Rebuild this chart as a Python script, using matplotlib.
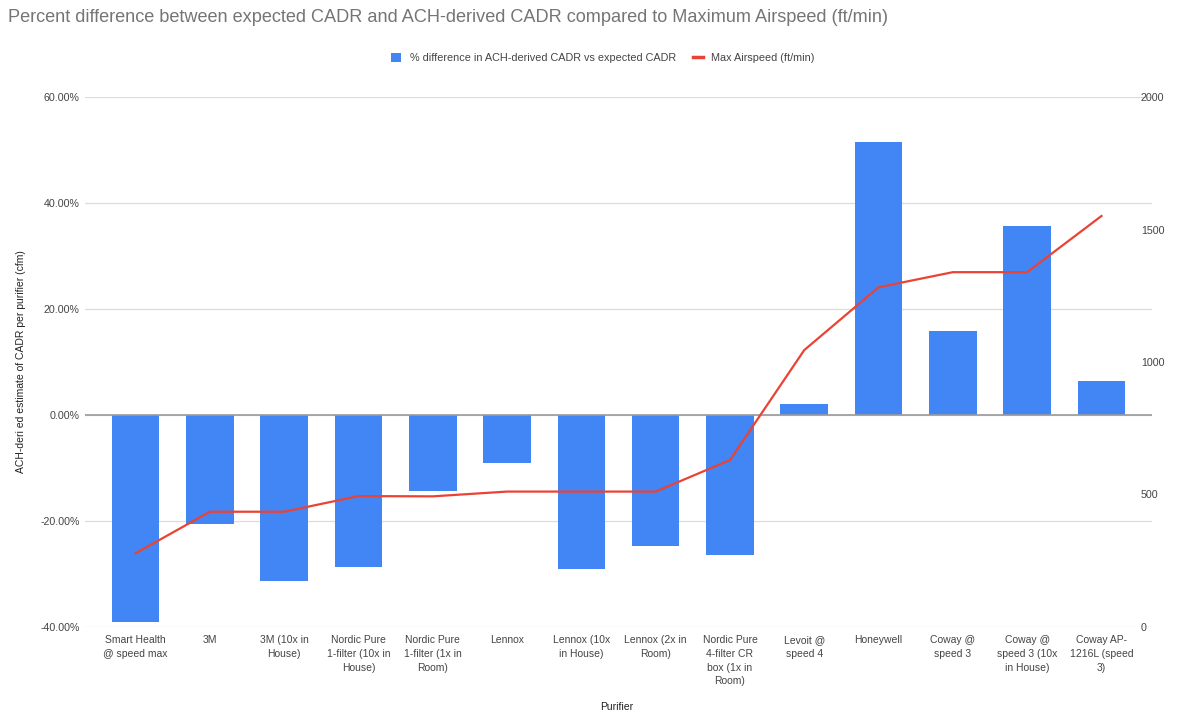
import matplotlib
matplotlib.use("Agg")
import matplotlib.pyplot as plt
import matplotlib.ticker as mticker
from matplotlib.patches import Patch
from matplotlib.lines import Line2D
import numpy as np

plt.rcParams['font.family'] = ['Liberation Sans', 'DejaVu Sans']

# data
purifiers = [
    "Smart Health\n@ speed max",
    "3M",
    "3M (10x in\nHouse)",
    "Nordic Pure\n1-filter (10x in\nHouse)",
    "Nordic Pure\n1-filter (1x in\nRoom)",
    "Lennox",
    "Lennox (10x\nin House)",
    "Lennox (2x in\nRoom)",
    "Nordic Pure\n4-filter CR\nbox (1x in\nRoom)",
    "Levoit @\nspeed 4",
    "Honeywell",
    "Coway @\nspeed 3",
    "Coway @\nspeed 3 (10x\nin House)",
    "Coway AP-\n1216L (speed\n3)",
]
pct_diff = [-39.0, -20.6, -31.3, -28.6, -14.4, -9.0, -29.1, -24.8, -26.4,
            2.1, 51.6, 15.8, 35.7, 6.4]
max_airspeed = [278, 435, 435, 494, 493, 511, 511, 511, 630,
                1045, 1282, 1339, 1339, 1551]

BLUE = '#4285F4'
RED = '#EA4335'
TXT = '#444444'

fig = plt.figure(figsize=(11.85, 7.15), dpi=100)
ax = fig.add_axes([85 / 1185, 1 - 627 / 715, (1152 - 85) / 1185, 530 / 715])
ax2 = ax.twinx()

x = np.arange(len(purifiers))
ax.bar(x, pct_diff, width=0.64, color=BLUE, zorder=3)
ax2.plot(x, max_airspeed, color=RED, lw=1.6, zorder=4)

ax.set_xlim(-0.68, len(purifiers) - 1 + 0.68)
ax.set_ylim(-40, 60)
ax.set_yticks([-40, -20, 0, 20, 40, 60])
ax.yaxis.set_major_formatter(mticker.FuncFormatter(lambda v, p: '%.2f%%' % v))
ax.grid(axis='y', color='#dcdcdc', lw=0.9, zorder=0)
ax.axhline(0, color='#9a9a9a', lw=1.2, zorder=4)
ax2.set_ylim(0, 2000)
ax2.set_yticks([0, 500, 1000, 1500, 2000])

for a in (ax, ax2):
    for s in a.spines.values():
        s.set_visible(False)
    a.tick_params(length=0, labelsize=7.7, labelcolor=TXT)
ax.tick_params(axis='y', pad=4)
ax2.tick_params(axis='y', pad=-8)
ax2.set_zorder(ax.get_zorder() + 1)
ax2.patch.set_visible(False)

ax.set_xticks(x)
ax.set_xticklabels(purifiers, fontsize=7.5, color=TXT, linespacing=1.45, va='top')
ax.tick_params(axis='x', pad=6)

ax.set_ylabel('ACH-deri ed estimate of CADR per purifier (cfm)', fontsize=7.5, color='#222222', labelpad=10)
fig.text(617 / 1185, 1 - 707 / 715, 'Purifier', fontsize=7.5, color='#222222', ha='center', va='center')

fig.text(8 / 1185, 1 - 17 / 715,
         'Percent difference between expected CADR and ACH-derived CADR compared to Maximum Airspeed (ft/min)',
         fontsize=13.1, color='#757575', ha='left', va='center')

handles = [Patch(facecolor=BLUE, edgecolor='none'), Line2D([0], [0], color=RED, lw=2.5)]
labels = ['% difference in ACH-derived CADR vs expected CADR', 'Max Airspeed (ft/min)']
fig.legend(handles, labels, loc='center', bbox_to_anchor=(603 / 1185, 1 - 58 / 715), ncol=2,
           frameon=False, fontsize=7.8, handlelength=0.9, handleheight=0.9, handletextpad=0.8,
           columnspacing=1.6, labelcolor=TXT)

fig.savefig('out.png', dpi=100, facecolor='white')
